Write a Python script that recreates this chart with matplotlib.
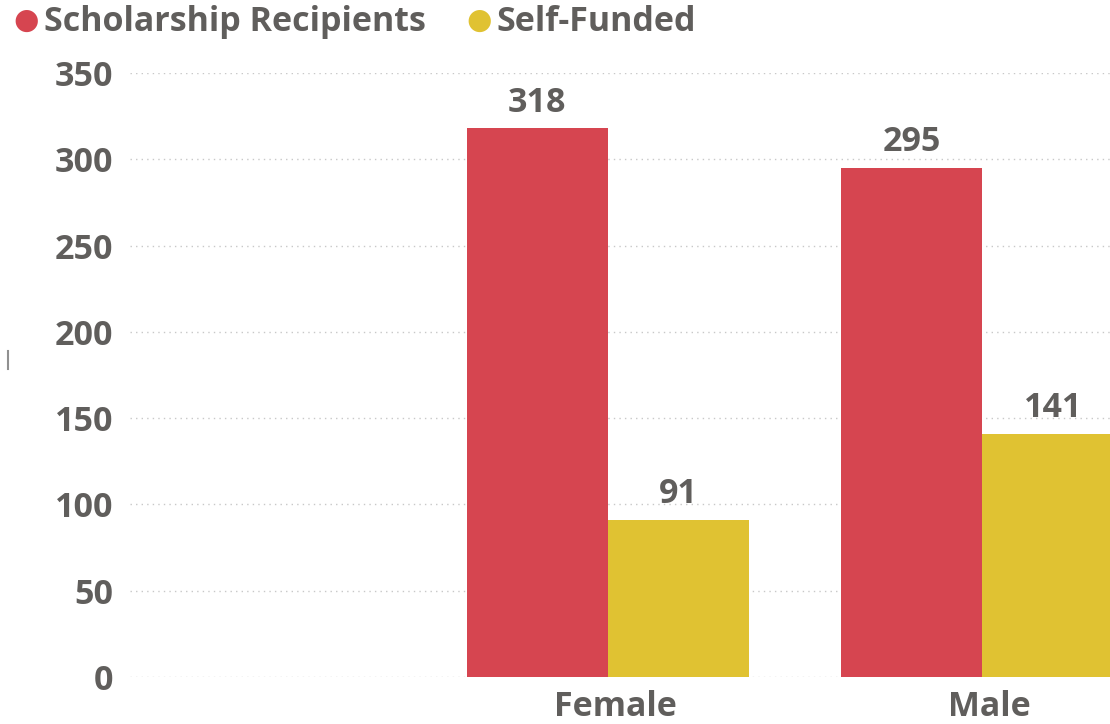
import numpy as np
import matplotlib.pyplot as plt
from matplotlib.lines import Line2D

# Data
categories = ['', 'Female', 'Male']
scholarship = [None, 318, 295]
self_funded = [None, 91, 141]
series_names = ['Scholarship Recipients', 'Self-Funded']
colors = ['#D64550', '#E0C232']
y_ticks = [0, 50, 100, 150, 200, 250, 300, 350]

text_color = '#605E5C'
fs = 24.5
plt.rcParams['font.family'] = ['Open Sans', 'DejaVu Sans']

fig = plt.figure(figsize=(11.1, 7.24), dpi=100)
ax = fig.add_axes([130 / 1110, 47 / 724, 980 / 1110, 604 / 724])

x = np.arange(len(categories))
w = 0.378
for vals, off, col in [(scholarship, -w / 2, colors[0]), (self_funded, w / 2, colors[1])]:
    for xi, v in zip(x, vals):
        if v is None:
            continue
        ax.bar(xi + off, v, width=w, color=col, edgecolor='none')
        ax.text(xi + off, v + 5, str(v), ha='center', va='bottom',
                fontsize=fs, fontweight='bold', color=text_color)

ax.set_xlim(-0.278, 2.342)
ax.set_ylim(0, 350)
ax.set_yticks(y_ticks)
ax.set_yticklabels([str(t) for t in y_ticks], fontsize=fs, fontweight='bold', color=text_color)
ax.set_xticks(x[1:] + 0.02)
ax.set_xticklabels(categories[1:], fontsize=fs, fontweight='bold', color=text_color)
ax.tick_params(axis='both', length=0)
ax.tick_params(axis='y', pad=12)
ax.tick_params(axis='x', pad=9)
ax.grid(axis='y', color='#C8C8C8', linestyle=(0, (1, 3)), linewidth=1)
ax.set_axisbelow(True)
for s in ax.spines.values():
    s.set_visible(False)

# Legend
fig.text(26 / 1110, 1 - 21 / 724, '\u25CF', color=colors[0], fontsize=21, ha='center', va='center')
fig.text(44 / 1110, 1 - 22 / 724, series_names[0], color=text_color, fontsize=fs,
         fontweight='bold', ha='left', va='center')
fig.text(479 / 1110, 1 - 21 / 724, '\u25CF', color=colors[1], fontsize=21, ha='center', va='center')
fig.text(496 / 1110, 1 - 22 / 724, series_names[1], color=text_color, fontsize=fs,
         fontweight='bold', ha='left', va='center')

fig.add_artist(Line2D([8 / 1110, 8 / 1110], [1 - 351 / 724, 1 - 369 / 724],
                      color='#909090', linewidth=1.5))

plt.savefig('out.png', dpi=100)
